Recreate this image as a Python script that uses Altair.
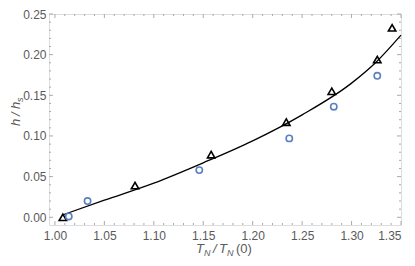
import altair as alt
import pandas as pd

# data
tri_x = [1.008, 1.081, 1.158, 1.234, 1.280, 1.326, 1.341]
tri_y = [0.000, 0.039, 0.077, 0.117, 0.155, 0.194, 0.233]
circ_x = [1.014, 1.033, 1.146, 1.237, 1.282, 1.326]
circ_y = [0.001, 0.020, 0.058, 0.097, 0.136, 0.174]
fit_x = [1.008, 1.05, 1.10, 1.15, 1.20, 1.25, 1.30, 1.325, 1.35]
fit_y = [0.003, 0.021, 0.042, 0.067, 0.094, 0.126, 0.165, 0.191, 0.224]

x_labels = [1.00, 1.05, 1.10, 1.15, 1.20, 1.25, 1.30, 1.35]
y_labels = [0.00, 0.05, 0.10, 0.15, 0.20, 0.25]
x_minor = [round(1.00 + 0.01 * i, 2) for i in range(36)]
x_minor = [v for v in x_minor if round(v * 100) % 5 != 0]
y_minor = [round(0.01 * i, 2) for i in range(26)]
y_minor = [v for v in y_minor if round(v * 100) % 5 != 0]

W, H = 352, 211
XD = [0.994, 1.35]
YD = [-0.0095, 0.25]
FONT = "Liberation Sans"
LBL = "#5a5a5a"
FRAME = "#aaaaaa"

xs = alt.Scale(domain=XD, nice=False, zero=False)
ys = alt.Scale(domain=YD, nice=False, zero=False)

fit = alt.Chart(pd.DataFrame({"x": fit_x, "y": fit_y})).mark_line(
    color="black", strokeWidth=1.3, interpolate="monotone"
).encode(
    x=alt.X("x:Q", scale=xs, axis=alt.Axis(values=x_labels, format=".2f", title=None,
                                          domain=False, ticks=False, grid=False,
                                          labelPadding=5, labelFont=FONT, labelFontSize=12,
                                          labelColor=LBL)),
    y=alt.Y("y:Q", scale=ys, axis=alt.Axis(values=y_labels, format=".2f", title=None,
                                          domain=False, ticks=False, grid=False,
                                          labelPadding=3, labelFont=FONT, labelFontSize=12,
                                          labelColor=LBL)),
)

tri = alt.Chart(pd.DataFrame({"x": tri_x, "y": tri_y})).mark_point(
    shape="triangle-up", filled=False, color="black", strokeWidth=1.6, size=55, opacity=1
).encode(x=alt.X("x:Q", scale=xs), y=alt.Y("y:Q", scale=ys))

circ = alt.Chart(pd.DataFrame({"x": circ_x, "y": circ_y})).mark_point(
    shape="circle", filled=False, color="#5b80c2", strokeWidth=1.6, size=40, opacity=1
).encode(x=alt.X("x:Q", scale=xs), y=alt.Y("y:Q", scale=ys))


def xticks(vals, ln):
    d = pd.DataFrame({"v": vals})
    b = alt.Chart(d).mark_rule(color=FRAME, strokeWidth=1).encode(
        x=alt.X("v:Q", scale=xs), y=alt.value(H), y2=alt.value(H - ln))
    t = alt.Chart(d).mark_rule(color=FRAME, strokeWidth=1).encode(
        x=alt.X("v:Q", scale=xs), y=alt.value(0), y2=alt.value(ln))
    return [b, t]


def yticks(vals, ln):
    d = pd.DataFrame({"v": vals})
    l = alt.Chart(d).mark_rule(color=FRAME, strokeWidth=1).encode(
        y=alt.Y("v:Q", scale=ys), x=alt.value(0), x2=alt.value(ln))
    r = alt.Chart(d).mark_rule(color=FRAME, strokeWidth=1).encode(
        y=alt.Y("v:Q", scale=ys), x=alt.value(W), x2=alt.value(W - ln))
    return [l, r]


ticks = xticks(x_labels, 4) + xticks(x_minor, 2) + yticks(y_labels, 4) + yticks(y_minor, 2)

# axis titles as text pieces
xt_pieces = [
    ("T", 147, 239, 13, True),
    ("N", 155, 242, 9, True),
    ("/", 164, 239, 13, True),
    ("T", 170, 239, 13, True),
    ("N", 178, 242, 9, True),
    ("(0)", 187, 239, 13, False),
]
titles = []
for txt, x, y, s, it in xt_pieces:
    titles.append(
        alt.Chart(pd.DataFrame({"t": [txt]})).mark_text(
            align="left", baseline="alphabetic", font=FONT, fontSize=s,
            fontStyle="italic" if it else "normal", color=LBL
        ).encode(text="t:N", x=alt.value(x), y=alt.value(y))
    )
yt_pieces = [
    ("h", -29, 112, 13),
    ("/", -29, 102, 13),
    ("h", -29, 95, 13),
    ("s", -26, 88, 9),
]
for txt, x, y, s in yt_pieces:
    titles.append(
        alt.Chart(pd.DataFrame({"t": [txt]})).mark_text(
            align="left", baseline="alphabetic", font=FONT, fontSize=s,
            fontStyle="italic", color=LBL, angle=270
        ).encode(text="t:N", x=alt.value(x), y=alt.value(y))
    )

chart = alt.layer(*ticks, fit, tri, circ, *titles).properties(
    width=W, height=H,
    autosize=alt.AutoSizeParams(type="none"),
    padding={"left": 41, "top": 6, "right": 6, "bottom": 33},
).configure_view(stroke=FRAME, strokeWidth=1).configure(background="white")

chart.save("out.html", embed_options={"renderer": "svg", "actions": False})
